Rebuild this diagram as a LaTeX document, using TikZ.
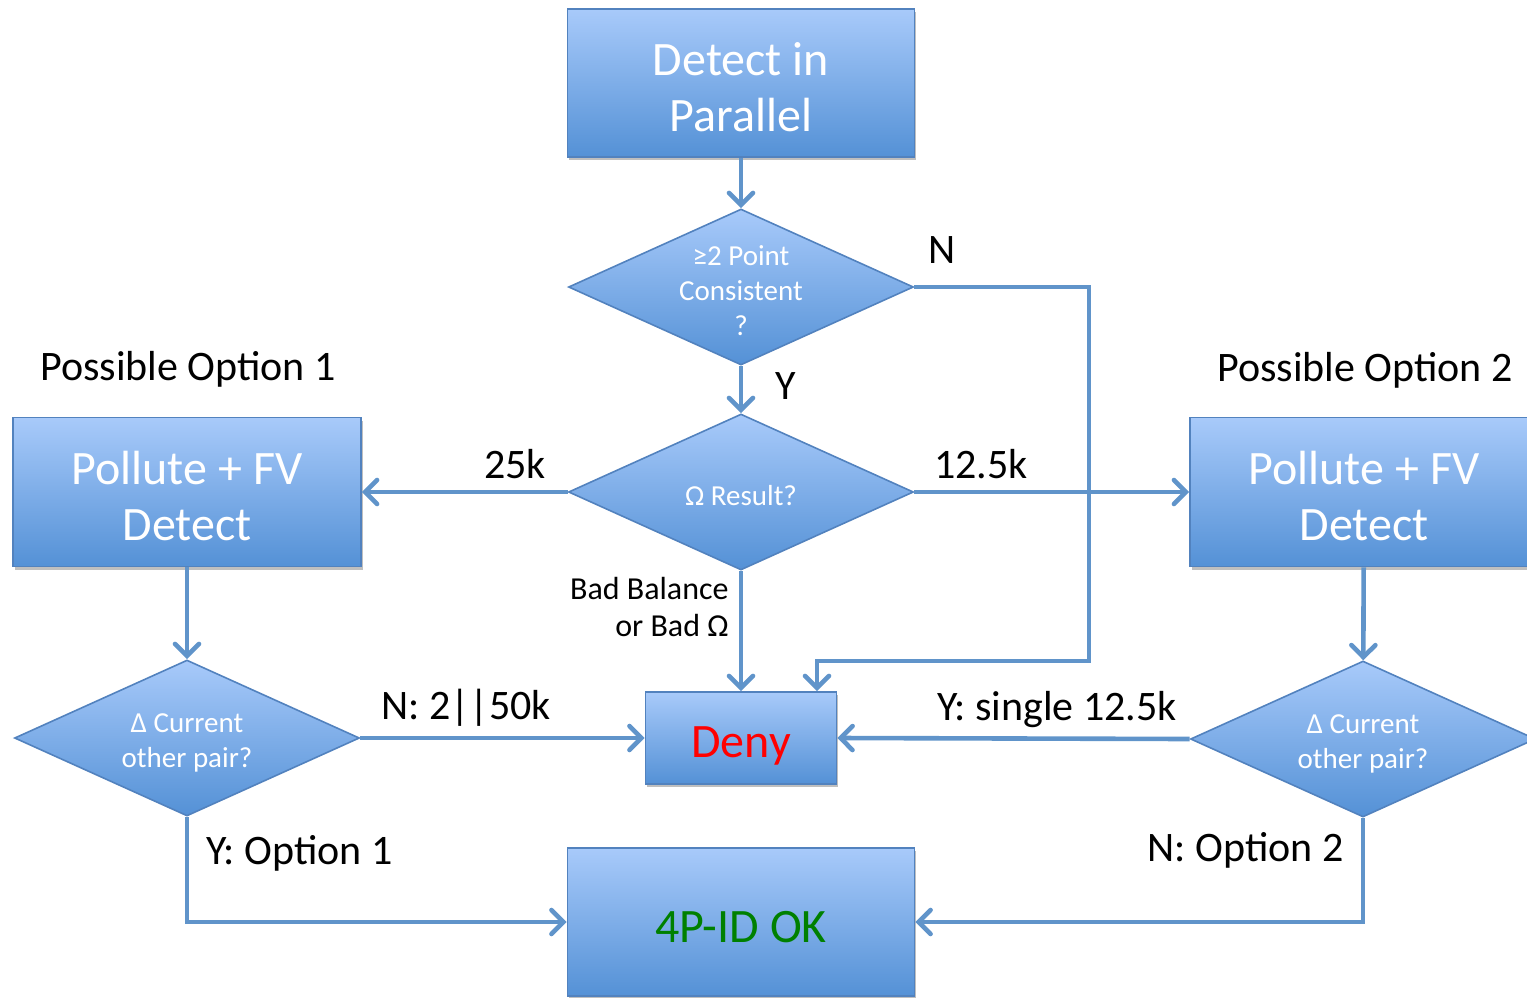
\documentclass[tikz,border=0pt]{standalone}
\usepackage{fontspec}
\setmainfont{Carlito}
\usetikzlibrary{shapes.geometric,arrows.meta,shadows}
\definecolor{boxtop}{RGB}{168,202,250}
\definecolor{boxbot}{RGB}{84,145,214}
\definecolor{boxedge}{RGB}{82,130,190}
\definecolor{flowcol}{RGB}{96,148,202}
\newcommand{\boxstrut}{\rule{0pt}{21pt}}
\newcommand{\diastrut}{\rule{0pt}{14pt}}

\begin{document}
\begin{tikzpicture}[
			     x=0.5pt, y=-0.5pt,
			     box/.style={rectangle, draw=boxedge, line width=0.8pt, top color=boxtop, bottom color=boxbot,
			                 text=white, align=center, inner sep=0pt, font=\fontsize{24}{28}\selectfont,
			                 drop shadow={shadow xshift=0.8pt, shadow yshift=-1.6pt, fill=black, opacity=0.25}},
			     decision/.style={diamond, shape aspect=2.2, draw=boxedge, line width=0.8pt, top color=boxtop, bottom color=boxbot,
			                 text=white, align=center, inner sep=0pt, font=\fontsize{14.5}{17.5}\selectfont,
			                 minimum width=172.5pt, minimum height=78pt},
			     lbl/.style={inner sep=0pt, yshift=-1pt, font=\fontsize{21}{25}\selectfont},
			     flow/.style={draw=flowcol, line width=2.3pt, -{Straight Barb[length=6pt, width=12pt, line cap=round]}}
			     ]
\useasboundingbox (0,0) rectangle (1527,997);
% boxes
\node[box, minimum width=173.5pt, minimum height=74pt] (detect) at (741,83) {\boxstrut Detect in\\Parallel};
\node[box, minimum width=174pt, minimum height=74.5pt] (poll1) at (187,492) {\boxstrut Pollute + FV\\Detect};
\node[box, minimum width=174pt, minimum height=74.5pt] (poll2) at (1364,492) {\boxstrut Pollute + FV\\Detect};
\node[box, minimum width=95.5pt, minimum height=46pt, text=red] (deny) at (741,738) {\rule{0pt}{23pt}Deny};
\node[box, minimum width=173.5pt, minimum height=74pt, text={rgb,255:red,0;green,128;blue,0}] (ok) at (741,922) {\boxstrut 4P-ID OK};
% decisions
\node[decision] (cons) at (741,287) {\diastrut ≥2 Point\\Consistent\\?};
\node[decision] (omega) at (741,492) {\diastrut Ω Result?};
\node[decision] (cur1) at (187,738) {\diastrut Δ Current\\other pair?};
\node[decision] (cur2) at (1363,739) {\diastrut Δ Current\\other pair?};
% labels
\node[lbl] (opt1) at (188,367) {Possible Option 1};
\node[lbl] (opt2) at (1365,368) {Possible Option 2};
\node[lbl] (ylab) at (786,384) {Y};
\node[lbl] (nlab) at (942,248) {N};
\node[lbl] (l25) at (515,462) {25k};
\node[lbl] (l125) at (981,462) {12.5k};
\node[lbl, anchor=east, align=right, font=\fontsize{16}{18.5}\selectfont] (bad) at (729,605) {Bad Balance\\or Bad Ω};
\node[lbl] (n50) at (466,706) {N: 2||50k};
\node[lbl] (ysingle) at (1057,708) {Y: single 12.5k};
\node[lbl, anchor=west] (yopt) at (206,851) {Y: Option 1};
\node[lbl, anchor=east] (nopt) at (1344,848) {N: Option 2};
\coordinate (nturn) at (1089,661);
% connectors
\draw[flow] (detect) -- (cons);
\draw[flow] (cons) -- (omega);
\draw[flow] (cons.east) -| (nturn) -| ([xshift=38pt]deny.north);
\draw[flow] (omega.west) -- (poll1.east);
\draw[flow] (omega.east) -- (poll2.west);
\draw[flow] (omega.south) -- (deny.north);
\draw[flow] (poll1) -- (cur1);
\draw[flow] (poll2) -- (cur2);
\draw[flow] (cur1.east) -- (deny.west);
\draw[flow] (cur2.west) -- (deny.east);
\draw[flow] (cur1.south) |- (ok.west);
\draw[flow] (cur2.south) |- (ok.east);
\end{tikzpicture}
\end{document}
